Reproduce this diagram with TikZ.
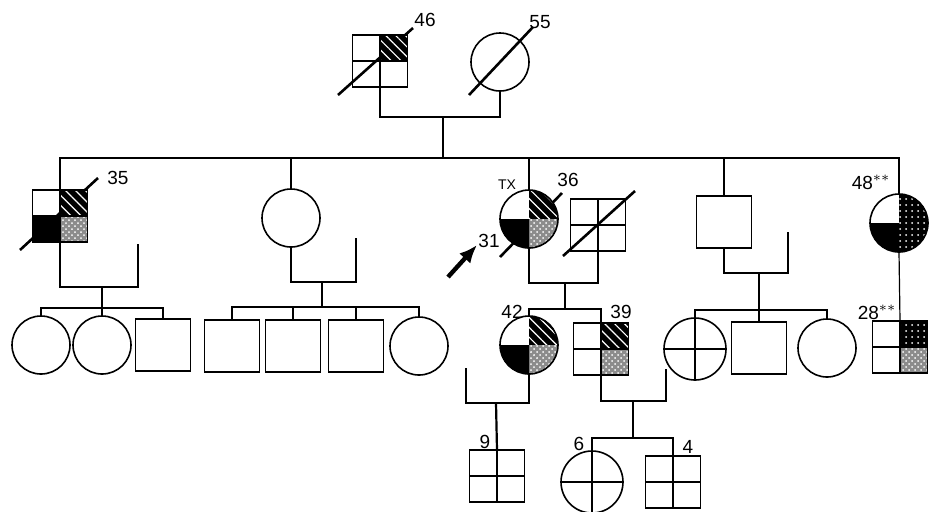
\documentclass[tikz,border=0pt]{standalone}
\usepackage{fontspec}
\setmainfont{Liberation Sans}
\usetikzlibrary{patterns,patterns.meta,backgrounds,arrows.meta}
\tikzset{
  male/.style={rectangle, draw, line width=0.8pt, minimum width=27.5pt, minimum height=26pt, inner sep=0pt, outer sep=0pt},
  female/.style={circle, draw, line width=0.8pt, minimum size=29pt, inner sep=0pt, outer sep=0pt},
  femalebig/.style={female, minimum size=31pt},
  link/.style={line width=0.6pt},
  thicklink/.style={line width=1.1pt},
  slash/.style={line width=1.3pt},
  age/.style={font=\fontsize{9.5}{11}\selectfont, inner sep=0pt},
  hatchq/.style={fill=black, postaction={pattern={Lines[angle=-45, distance=3.5pt, line width=0.6pt]}, pattern color=white}},
  darkdotq/.style={fill=black, postaction={pattern=dots, pattern color=white}},
  speckq/.style={fill=black!45, postaction={pattern=crosshatch dots, pattern color=white}}
}
% quadrant of a circle: node, start angle, radius, style
\newcommand{\cq}[4]{\fill[#4] (#1.center) -- ++(#2:#3) arc[start angle=#2, delta angle=-90, radius=#3] -- cycle;}
% quadrant of a square: node, corner, style
\newcommand{\sq}[3]{\fill[#3] (#1.center) rectangle (#1.#2);}
% cross lines in a symbol
\newcommand{\qlines}[1]{\draw[line width=0.8pt] (#1.north) -- (#1.south) (#1.west) -- (#1.east);}
\begin{document}
\begin{tikzpicture}[x=0.5pt, y=-0.5pt]
\useasboundingbox (0,0) rectangle (931,511);
% generation I
\node[male] (f46) at (380,61){};
\node[female] (m55) at (500,62){};
\node[age] (l46) at (425,20){46};
\node[age] (l55) at (540,22){55};
\coordinate (u1) at (443,117);
\coordinate (s1) at (443,158);
\draw[link] (f46.south) |- (u1) -| (m55.south);
\draw[link] (u1) -- (s1);
% generation II
\node[male] (ii1) at (60,216){};
\node[female] (ii2) at (291,218){};
\node[female] (ii3) at (529,219){};
\node[male] (sp3) at (598,225){};
\node[male] (ii4) at (724,222){};
\node[female] (ii5) at (899,223){};
\node[age] (l35) at (118,178){35};
\node[age] (l36) at (568,180){36};
\node[age, font=\fontsize{7}{8}\selectfont] (ltx) at (507,185){TX};
\node[age] (l31) at (489,241){31};
\node[age] (l48) at (871,182){48$^{**}$};
\draw[thicklink] (ii1.north) |- (s1) -| (ii5.north);
\draw[link] (ii2.north) -- (ii2.north |- s1);
\draw[thicklink] (ii3.north) -- (ii3.north |- s1);
\draw[link] (ii4.north) -- (ii4.north |- s1);
\coordinate (arr0) at (448,277);
\coordinate (arr1) at (477,245);
\draw[line width=2.2pt, -{Latex[length=9pt,width=7.5pt]}] (arr0) -- (arr1);
% generation III
\node[female] (iii1) at (41,345){};
\node[female] (iii2) at (102,345){};
\node[male] (iii3) at (163,345){};
\node[male] (iii4) at (232,346){};
\node[male] (iii5) at (293,346){};
\node[male] (iii6) at (356,346){};
\node[female] (iii7) at (419,346){};
\node[female] (iii8) at (529,345){};
\node[male] (iii9) at (601,349){};
\node[femalebig] (iii10) at (695,349){};
\node[male] (iii11) at (759,348){};
\node[female] (iii12) at (827,348){};
\node[male] (iii13) at (900,347){};
\node[age] (l42) at (512,312){42};
\node[age] (l39) at (621,312){39};
\node[age] (l28) at (877,312){28$^{**}$};
% II-1
\coordinate (u2) at (102,287);
\coordinate (s2) at (102,308);
\coordinate (sp1) at (138,244);
\draw[link] (ii1.south) |- (u2) -| (sp1);
\draw[thicklink] (u2) -- (iii2.north);
\draw[link] (iii1.north) |- (s2) -| (iii3.north);
% II-2
\coordinate (u3) at (322,282);
\coordinate (s3) at (322,307);
\coordinate (sp2) at (356,238);
\draw[link] (ii2.south) |- (u3) -| (sp2);
\draw[link] (u3) -- (s3);
\draw[link] (iii4.north) |- (s3) -| (iii7.north);
\draw[link] (iii5.north) -- (iii5.north |- s3);
\draw[link] (iii6.north) -- (iii6.north |- s3);
% II-3 and spouse
\coordinate (u4) at (565,283);
\coordinate (s4) at (565,309);
\draw[link] (ii3.south) |- (u4) -| (sp3.south);
\draw[link] (u4) -- (s4);
\draw[thicklink] (iii8.north) |- (s4) -| (iii9.north);
% II-4
\coordinate (u5) at (759,273);
\coordinate (s5) at (759,310);
\coordinate (sp4) at (788,232);
\draw[link] (ii4.south) |- (u5) -| (sp4);
\draw[thicklink] (u5) -- (iii11.north);
\draw[thicklink] (iii10.north) |- (s5) -| (iii12.north);
% II-5
\draw[link] (ii5.south) -- (iii13.north);
% generation IV
\node[male] (iv1) at (497,476){};
\node[femalebig] (iv2) at (592,482){};
\node[male] (iv3) at (673,482){};
\node[age] (l9) at (485,442){9};
\node[age] (l6) at (579,444){6};
\node[age] (l4) at (688,447){4};
\coordinate (u6) at (496,403);
\coordinate (sp5) at (466,368);
\draw[link] (iii8.south) |- (u6) -| (sp5);
\draw[thicklink] (u6) -- (iv1.north);
\coordinate (u7) at (633,401);
\coordinate (s7) at (633,438);
\coordinate (sp6) at (666,369);
\draw[link] (iii9.south) |- (u7) -| (sp6);
\draw[link] (u7) -- (s7);
\draw[thicklink] (iv2.north) |- (s7) -| (iv3.north);
% deceased and quadrant fills
\begin{scope}[on background layer]
\coordinate (d1a) at (338,95); \coordinate (d1b) at (413,28);
\coordinate (d2a) at (469,95); \coordinate (d2b) at (533,27);
\coordinate (d3a) at (20,250); \coordinate (d3b) at (98,178);
\coordinate (d4a) at (500,257); \coordinate (d4b) at (562,193);
\coordinate (d5a) at (563,256); \coordinate (d5b) at (635,191);
\draw[slash] (d1a) -- (d1b);
\draw[slash] (d2a) -- (d2b);
\draw[slash] (d3a) -- (d3b);
\draw[slash] (d4a) -- (d4b);
\draw[slash] (d5a) -- (d5b);
\sq{f46}{north east}{hatchq}
\sq{ii1}{north east}{hatchq}
\sq{ii1}{south west}{fill=black}
\sq{ii1}{south east}{speckq}
\cq{ii3}{90}{14.5pt}{hatchq}
\cq{ii3}{0}{14.5pt}{speckq}
\cq{ii3}{-90}{14.5pt}{fill=black}
\cq{ii5}{90}{14.5pt}{darkdotq}
\cq{ii5}{0}{14.5pt}{darkdotq}
\cq{ii5}{-90}{14.5pt}{fill=black}
\cq{iii8}{90}{14.5pt}{hatchq}
\cq{iii8}{0}{14.5pt}{speckq}
\cq{iii8}{-90}{14.5pt}{fill=black}
\sq{iii9}{north east}{hatchq}
\sq{iii9}{south east}{speckq}
\sq{iii13}{north east}{darkdotq}
\sq{iii13}{south east}{speckq}
\end{scope}
% quadrant lines
\qlines{f46}
\qlines{ii1}
\qlines{sp3}
\qlines{iii9}
\qlines{iii10}
\qlines{iii13}
\qlines{iv1}
\qlines{iv2}
\qlines{iv3}
\end{tikzpicture}
\end{document}
